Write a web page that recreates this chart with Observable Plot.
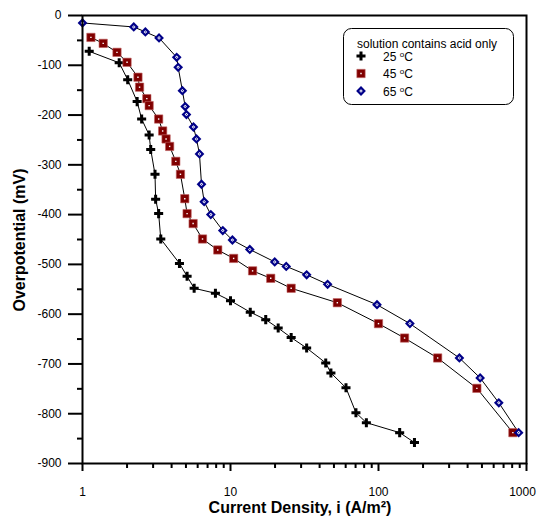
<!DOCTYPE html>
<html>
<head>
<meta charset="utf-8">
<script src="https://cdn.jsdelivr.net/npm/d3@7"></script>
<script src="https://cdn.jsdelivr.net/npm/@observablehq/plot@0.6"></script>
<style>
  html, body { margin: 0; padding: 0; background: white; }
  svg text { font-family: "Liberation Sans", Arial, sans-serif; }
</style>
</head>
<body>
<div id="chart"></div>
<script>
// ---- data ----
const i25 = [1.11, 1.77, 2.02, 2.34, 2.51, 2.82, 2.89, 3.09, 3.12, 3.27, 3.38, 4.52, 5.09, 5.68, 7.91, 10.0, 13.6, 17.3, 21.0, 25.7, 32.7, 44.0, 47.7, 60.3, 70.4, 82.8, 139, 175];
const v25 = [-72, -95, -129, -173, -208, -240, -269, -319, -369, -398, -449, -498, -524, -548, -558, -573, -596, -611, -628, -647, -668, -698, -718, -748, -798, -818, -838, -858];

const i45 = [1.14, 1.38, 1.71, 2.0, 2.37, 2.43, 2.72, 2.82, 3.27, 3.48, 3.67, 3.88, 4.27, 4.59, 4.91, 5.09, 5.59, 6.47, 8.2, 10.5, 14.1, 18.7, 25.7, 52.7, 100, 150, 251, 462, 809];
const v45 = [-44, -56, -74, -94, -124, -144, -167, -181, -208, -232, -248, -263, -293, -319, -368, -398, -418, -449, -471, -488, -513, -528, -548, -577, -619, -648, -688, -749, -838];

const i65 = [1.0, 2.22, 2.66, 3.29, 4.33, 4.43, 4.73, 4.94, 5.04, 5.62, 5.89, 6.17, 6.37, 6.64, 7.36, 8.87, 10.3, 13.5, 19.9, 23.8, 32.7, 45.3, 97.7, 163, 352, 486, 650, 885];
const v65 = [-15, -23, -33, -45, -84, -104, -151, -183, -199, -224, -248, -278, -339, -374, -400, -432, -451, -470, -495, -504, -521, -540, -581, -619, -688, -728, -778, -838];

const seriesNames = ["25", "45", "65"];
const legendTitle = "solution contains acid only";
const xMajor = [1, 10, 100, 1000];
const xMinor = [2,3,4,5,6,7,8,9,20,30,40,50,60,70,80,90,200,300,400,500,600,700,800,900];
const yMajor = [0, -100, -200, -300, -400, -500, -600, -700, -800, -900];
const yMinor = [-50, -150, -250, -350, -450, -550, -650, -750, -850];

const colRed = "#800000";
const colBlue = "#000088";
const crossR = 3.8;
const squareR = 4.7;

const rows = (xs, ys) => xs.map((x, k) => ({i: x, v: ys[k]}));
const r25 = rows(i25, v25), r45 = rows(i45, v45), r65 = rows(i65, v65);

const plot = Plot.plot({
  width: 537,
  height: 520,
  marginLeft: 82,
  marginRight: 11,
  marginTop: 15,
  marginBottom: 57,
  x: {type: "log", domain: [1, 1000]},
  y: {domain: [-900, 0]},
  style: {fontFamily: "Liberation Sans, Arial, sans-serif", fontSize: "12px", background: "white", color: "black"},
  marks: [
    Plot.axisY({ticks: yMajor, tickSize: 14, tickPadding: 7, tickFormat: d => String(d), label: null, strokeWidth: 2, fontSize: 12}),
    Plot.axisY({ticks: yMinor, tickSize: 5, tickFormat: () => "", label: null, strokeWidth: 2}),
    Plot.axisX({ticks: xMajor, tickSize: 8, tickPadding: 16, tickFormat: d => String(d), label: null, strokeWidth: 2, fontSize: 12}),
    Plot.axisX({ticks: xMinor, tickSize: 5, tickFormat: () => "", label: null, strokeWidth: 2}),
    Plot.line(r25, {x: "i", y: "v", stroke: "black", strokeWidth: 1}),
    Plot.line(r45, {x: "i", y: "v", stroke: "black", strokeWidth: 1}),
    Plot.line(r65, {x: "i", y: "v", stroke: "black", strokeWidth: 1}),
    Plot.dot(r25, {x: "i", y: "v", symbol: "cross", fill: "black", stroke: "none", r: crossR}),
    Plot.dot(r45, {x: "i", y: "v", symbol: "square", fill: colRed, stroke: "#c06060", strokeWidth: 0.6, r: squareR}),
    Plot.dot(r45, {x: "i", y: "v", symbol: "square", fill: "white", stroke: "none", r: 0.8}),
    Plot.dot(r65, {x: "i", y: "v", symbol: "diamond2", fill: colBlue, stroke: "none", r: 4.4}),
    Plot.dot(r65, {x: "i", y: "v", symbol: "diamond2", fill: "white", stroke: "none", r: 1.6}),
    Plot.dot(r65, {x: "i", y: "v", symbol: "circle", fill: colBlue, stroke: "none", r: 0.6}),
    Plot.frame({stroke: "black", strokeWidth: 2})
  ]
});

document.getElementById("chart").appendChild(plot);
const svg = d3.select(plot);

// shift the last x tick label slightly left so it stays inside the picture
svg.selectAll("text")
  .filter(function() { return this.textContent === "1000"; })
  .attr("dx", -4);

// axis titles
svg.append("text")
  .attr("transform", "translate(25,240) rotate(-90)")
  .attr("text-anchor", "middle")
  .attr("font-size", 16).attr("font-weight", "bold")
  .text("Overpotential (mV)");

svg.append("text")
  .attr("x", 300).attr("y", 513)
  .attr("text-anchor", "middle")
  .attr("font-size", 16).attr("font-weight", "bold")
  .text("Current Density, i (A/m²)");

// legend
const lg = svg.append("g").attr("text-anchor", "start");
lg.append("rect")
  .attr("x", 343.5).attr("y", 28.5).attr("width", 170).attr("height", 76)
  .attr("rx", 8).attr("ry", 8)
  .attr("fill", "white").attr("stroke", "black").attr("stroke-width", 1);
lg.append("text").attr("x", 357).attr("y", 47.5).attr("font-size", 12).attr("text-anchor", "start").text(legendTitle);

const legendY = [56, 73.5, 91];
const symFns = [
  g => g.append("path").attr("d", d3.symbol(d3.symbolCross, crossR * crossR * Math.PI)()).attr("fill", "black"),
  g => { g.append("path").attr("d", d3.symbol(d3.symbolSquare, squareR * squareR * Math.PI)()).attr("fill", colRed).attr("stroke", "#c06060").attr("stroke-width", 0.6);
         g.append("path").attr("d", d3.symbol(d3.symbolSquare, 0.8 * 0.8 * Math.PI)()).attr("fill", "white"); },
  g => { g.append("path").attr("d", d3.symbol(d3.symbolDiamond2, 4.4 * 4.4 * Math.PI)()).attr("fill", colBlue);
         g.append("path").attr("d", d3.symbol(d3.symbolDiamond2, 1.6 * 1.6 * Math.PI)()).attr("fill", "white");
         g.append("circle").attr("r", 0.6).attr("fill", colBlue); }
];
seriesNames.forEach((name, k) => {
  const g = lg.append("g").attr("transform", `translate(361,${legendY[k]})`);
  symFns[k](g);
  const t = lg.append("text").attr("x", 383).attr("y", legendY[k] + 4.5).attr("font-size", 12).attr("text-anchor", "start");
  t.append("tspan").text(name + " ");
  t.append("tspan").attr("font-size", 8).attr("dy", -4).text("o");
  t.append("tspan").attr("dy", 4).text("C");
});
</script>
</body>
</html>
